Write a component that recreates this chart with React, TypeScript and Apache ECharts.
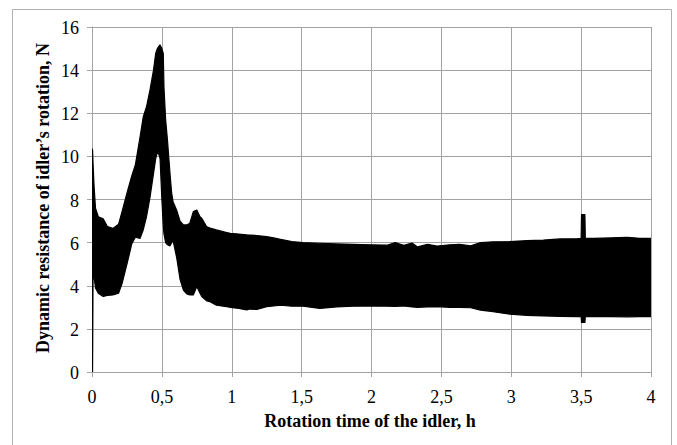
import React, { useEffect, useRef } from "react";
import * as echarts from "echarts";

// Rotation time, h
const time = [
  0.0, 0.004, 0.008, 0.015, 0.025, 0.045, 0.08, 0.11, 0.15, 0.19, 0.215, 0.25, 0.285, 0.31, 0.344,
  0.367, 0.39, 0.415, 0.44, 0.456, 0.468, 0.478, 0.487, 0.5, 0.51, 0.515, 0.527, 0.54, 0.557, 0.57,
  0.58, 0.606, 0.63, 0.654, 0.678, 0.7, 0.725, 0.75, 0.773, 0.785, 0.82, 0.845, 0.89, 0.964, 0.99,
  1.05, 1.107, 1.13, 1.18, 1.25, 1.3, 1.35, 1.43, 1.51, 1.63, 1.75, 1.87, 1.99, 2.11, 2.17, 2.23,
  2.29, 2.33, 2.4, 2.47, 2.56, 2.63, 2.71, 2.78, 2.87, 2.99, 3.11, 3.23, 3.35, 3.47, 3.5, 3.503,
  3.527, 3.53, 3.59, 3.71, 3.83, 3.92, 4.0,
];
// Lower envelope of the oscillating resistance, N
const lower = [
  0, 0, 5.0, 4.4, 3.9, 3.65, 3.5, 3.55, 3.57, 3.65, 4.1, 5.0, 5.95, 6.25, 6.2,
  6.6, 7.2, 8.1, 9.2, 9.9, 10.2, 10.1, 9.9, 8.0, 6.8, 6.4, 6.0, 5.9, 5.85, 6.0,
  6.1, 5.3, 4.3, 3.8, 3.62, 3.57, 3.57, 3.96, 3.65, 3.5, 3.3, 3.26, 3.1, 3.03, 3.0,
  2.95, 2.88, 2.92, 2.9, 3.03, 3.06, 3.1, 3.05, 3.05, 2.95, 3.02, 3.05, 3.06, 3.05, 3.04, 3.06,
  3.02, 3.0, 3.02, 3.03, 3.0, 3.0, 2.98, 2.87, 2.8, 2.68, 2.63, 2.6, 2.58, 2.57, 2.57, 2.3,
  2.3, 2.57, 2.57, 2.57, 2.56, 2.57, 2.57,
];
// Upper envelope of the oscillating resistance, N
const upper = [
  10.35, 10.3, 9.6, 8.6, 7.6, 7.2, 7.1, 6.75, 6.66, 6.85, 7.44, 8.3, 9.1, 9.6, 10.9,
  11.84, 12.3, 13.08, 14.0, 14.78, 15.0, 15.1, 15.17, 15.0, 14.78, 13.2, 11.7, 10.76, 9.3, 8.3,
  7.9, 7.5, 7.0, 6.82, 6.82, 6.9, 7.44, 7.51, 7.2, 7.13, 6.74, 6.68, 6.59, 6.47, 6.43,
  6.4, 6.36, 6.35, 6.33, 6.28, 6.22, 6.15, 6.05, 6.0, 5.97, 5.94, 5.92, 5.9, 5.88, 6.0, 5.88,
  5.98, 5.8, 5.92, 5.84, 5.9, 5.92, 5.85, 6.0, 6.04, 6.05, 6.09, 6.12, 6.17, 6.18, 6.2, 7.3,
  7.3, 6.2, 6.2, 6.22, 6.25, 6.2, 6.2,
];

const yTicks = [0, 2, 4, 6, 8, 10, 12, 14, 16];
const xTicks = [0, 0.5, 1, 1.5, 2, 2.5, 3, 3.5, 4];
const xTickLabels = ["0", "0,5", "1", "1,5", "2", "2,5", "3", "3,5", "4"];

const FONT = '"Liberation Serif", "Times New Roman", serif';
const GRID = "#a3a3a3";

export default function App() {
  const ref = useRef<HTMLDivElement>(null);
  useEffect(() => {
    if (!ref.current) return;
    const chart = echarts.init(ref.current, undefined, { renderer: "svg" });
    const bandData = time.map((t, i) => [t, lower[i], upper[i]]);
    chart.setOption({
      animation: false,
      backgroundColor: "#ffffff",
      grid: { left: 92, top: 27, right: 26, bottom: 73, containLabel: false },
      xAxis: {
        type: "value",
        min: xTicks[0],
        max: xTicks[xTicks.length - 1],
        interval: 0.5,
        axisLine: { show: true, lineStyle: { color: GRID, width: 1 } },
        axisTick: { show: true, length: 5, lineStyle: { color: GRID } },
        splitLine: { show: true, lineStyle: { color: GRID, width: 1 } },
        axisLabel: { show: false },
      },
      yAxis: {
        type: "value",
        min: yTicks[0],
        max: yTicks[yTicks.length - 1],
        interval: 2,
        axisLine: { show: true, lineStyle: { color: GRID, width: 1 } },
        axisTick: { show: true, length: 5, lineStyle: { color: GRID } },
        splitLine: { show: true, lineStyle: { color: GRID, width: 1 } },
        axisLabel: { show: false },
      },
      series: [
        {
          type: "custom",
          data: bandData,
          encode: { x: 0, y: [1, 2] },
          clip: true,
          z: 3,
          renderItem: (params: any, api: any) => {
            if (params.dataIndex !== 0) return null;
            const pts: number[][] = [];
            for (let i = 0; i < bandData.length; i++) {
              pts.push(api.coord([bandData[i][0], bandData[i][2]]));
            }
            for (let i = bandData.length - 1; i >= 0; i--) {
              pts.push(api.coord([bandData[i][0], bandData[i][1]]));
            }
            return {
              type: "polygon",
              shape: { points: pts },
              style: { fill: "#000", stroke: "#000", lineWidth: 1.2, lineJoin: "round" },
            };
          },
        },
      ],
    });

    const tickFont = `18px ${FONT}`;
    const labels: any[] = [];
    xTicks.forEach((v, i) => {
      const p = chart.convertToPixel({ gridIndex: 0 }, [v, yTicks[0]]) as number[];
      labels.push({
        type: "text",
        x: p[0],
        y: p[1] + 25,
        style: { text: xTickLabels[i], font: tickFont, fill: "#000", align: "center", verticalAlign: "middle" },
      });
    });
    yTicks.forEach((v) => {
      const p = chart.convertToPixel({ gridIndex: 0 }, [xTicks[0], v]) as number[];
      labels.push({
        type: "text",
        x: p[0] - 13,
        y: p[1] + 1,
        style: { text: String(v), font: tickFont, fill: "#000", align: "right", verticalAlign: "middle" },
      });
    });

    chart.setOption({
      graphic: [
        {
          type: "rect",
          shape: { x: 12.5, y: 9.5, width: 659, height: 460 },
          style: { fill: "none", stroke: "#b0b0b0", lineWidth: 1 },
          silent: true,
        },
        {
          type: "text",
          x: 43,
          y: 198,
          rotation: Math.PI / 2,
          style: {
            text: "Dynamic resistance of idler\u2019s rotation, N",
            font: `bold 18px ${FONT}`,
            fill: "#000",
            align: "center",
            verticalAlign: "middle",
          },
        },
        {
          type: "text",
          x: 370,
          y: 421,
          style: {
            text: "Rotation time of the idler, h",
            font: `bold 18px ${FONT}`,
            fill: "#000",
            align: "center",
            verticalAlign: "middle",
          },
        },
        ...labels,
      ],
    });
    return () => chart.dispose();
  }, []);
  return (
    <div
      ref={ref}
      style={{ position: "absolute", left: 0, top: 0, width: 677, height: 445 }}
    />
  );
}
